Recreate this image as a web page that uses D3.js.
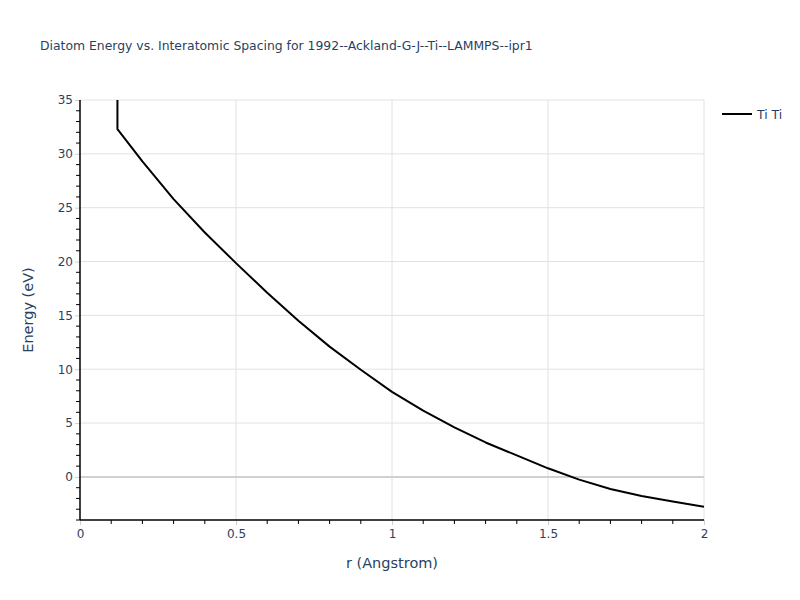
<!DOCTYPE html>
<html><head><meta charset="utf-8">
<script src="https://cdn.jsdelivr.net/npm/d3@7"></script>
<style>body{margin:0;background:#fff;} text{font-family:"DejaVu Sans",Verdana,sans-serif;}</style>
</head><body>
<svg id="c" width="800" height="600"></svg>
<script>
const rValues = [0.12, 0.12, 0.2, 0.3, 0.4, 0.5, 0.6, 0.7, 0.8, 0.9, 1.0, 1.1, 1.2, 1.3, 1.4, 1.5, 1.6, 1.7, 1.8, 1.9, 2.0];
const energyValues = [80, 32.3, 29.3, 25.8, 22.7, 19.85, 17.1, 14.5, 12.1, 9.95, 7.9, 6.15, 4.6, 3.2, 2.0, 0.8, -0.25, -1.12, -1.78, -2.29, -2.77];
const seriesName = "Ti Ti";
const xTicks = [0, 0.5, 1, 1.5, 2];
const yTicks = [0, 5, 10, 15, 20, 25, 30, 35];
const titleText = "Diatom Energy vs. Interatomic Spacing for 1992--Ackland-G-J--Ti--LAMMPS--ipr1";

const svg = d3.select("#c");
const m = {l: 80, r: 96, t: 100, b: 80};
const W = 800, H = 600;
const x = d3.scaleLinear().domain([0, 2]).range([m.l, W - m.r]);
const y = d3.scaleLinear().domain([-4, 35]).range([H - m.b, m.t]);
const txt = "#2a3f5f";

// grid
const g = svg.append("g");
g.selectAll(".gx").data(xTicks.filter(d => d !== 0)).enter().append("line")
  .attr("x1", d => x(d)).attr("x2", d => x(d)).attr("y1", m.t).attr("y2", H - m.b)
  .attr("stroke", "#e2e2e2").attr("stroke-width", 1);
g.selectAll(".gy").data(yTicks.filter(d => d !== 0)).enter().append("line")
  .attr("x1", m.l).attr("x2", W - m.r).attr("y1", d => y(d)).attr("y2", d => y(d))
  .attr("stroke", "#e2e2e2").attr("stroke-width", 1);
// zero line
g.append("line").attr("x1", m.l).attr("x2", W - m.r).attr("y1", y(0)).attr("y2", y(0))
  .attr("stroke", "#d0d0d0").attr("stroke-width", 2);

// clip
svg.append("clipPath").attr("id", "clip").append("rect")
  .attr("x", m.l).attr("y", m.t).attr("width", W - m.l - m.r).attr("height", H - m.t - m.b);

const data = rValues.map((r, i) => [r, energyValues[i]]);
svg.append("path").datum(data).attr("clip-path", "url(#clip)")
  .attr("fill", "none").attr("stroke", "#000").attr("stroke-width", 2)
  .attr("stroke-linejoin", "round")
  .attr("d", d3.line().x(d => x(d[0])).y(d => y(d[1])));

// minor ticks
const xMinor = d3.range(0, 2.0001, 0.1).map(v => +v.toFixed(2)).filter(v => !xTicks.includes(v));
const yMinor = d3.range(-4, 35.0001, 1).filter(v => !yTicks.includes(v));
svg.selectAll(".mx").data(xMinor).enter().append("line")
  .attr("x1", d => x(d)).attr("x2", d => x(d)).attr("y1", H - m.b).attr("y2", H - m.b + 4)
  .attr("stroke", "#000").attr("stroke-width", 1);
svg.selectAll(".my").data(yMinor).enter().append("line")
  .attr("x1", m.l - 4).attr("x2", m.l).attr("y1", d => y(d)).attr("y2", d => y(d))
  .attr("stroke", "#000").attr("stroke-width", 1);

// axes
const xAxis = d3.axisBottom(x).tickValues(xTicks).tickSize(5).tickPadding(4).tickFormat(d3.format("~g"));
const yAxis = d3.axisLeft(y).tickValues(yTicks).tickSize(5).tickPadding(2).tickFormat(d3.format("~g"));
const gx = svg.append("g").attr("transform", `translate(0,${H - m.b})`).call(xAxis);
const gy = svg.append("g").attr("transform", `translate(${m.l},0)`).call(yAxis);
[gx, gy].forEach(a => {
  a.select(".domain").remove();
  a.selectAll(".tick line").attr("stroke", "#cfcfcf");
  a.selectAll(".tick text").attr("fill", txt).style("font-size", "12px");
});
// axis lines
svg.append("line").attr("x1", m.l).attr("x2", W - m.r).attr("y1", H - m.b).attr("y2", H - m.b)
  .attr("stroke", "#000").attr("stroke-width", 1.5);
svg.append("line").attr("x1", m.l).attr("x2", m.l).attr("y1", m.t).attr("y2", H - m.b)
  .attr("stroke", "#000").attr("stroke-width", 1.5);

// titles
svg.append("text").attr("x", 40).attr("y", 50).attr("fill", txt).style("font-size", "12.4px").text(titleText);
svg.append("text").attr("x", x(1)).attr("y", 568).attr("text-anchor", "middle").attr("fill", txt)
  .style("font-size", "14.5px").text("r (Angstrom)");
svg.append("text").attr("transform", `translate(33,${(m.t + H - m.b) / 2}) rotate(-90)`)
  .attr("text-anchor", "middle").attr("fill", txt).style("font-size", "14.5px").text("Energy (eV)");

// legend
svg.append("line").attr("x1", 722).attr("x2", 752).attr("y1", 114).attr("y2", 114)
  .attr("stroke", "#000").attr("stroke-width", 2);
svg.append("text").attr("x", 757).attr("y", 118.5).attr("fill", txt).style("font-size", "12.4px").text(seriesName);
</script>
</body></html>
